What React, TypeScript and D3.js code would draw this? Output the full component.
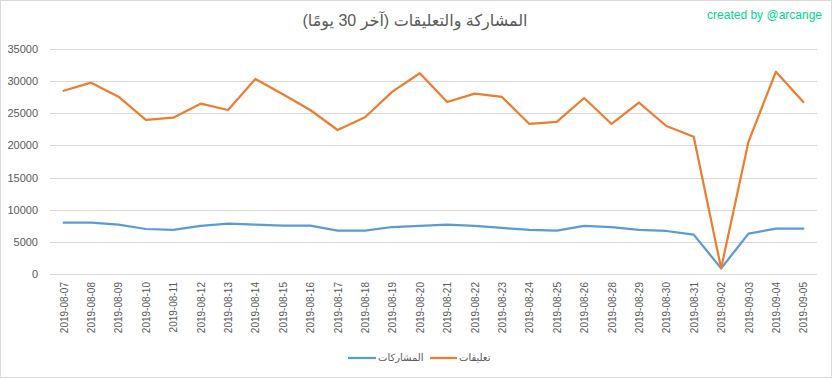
import React from "react";
import * as d3 from "d3";

const categories = [
  "2019-08-07","2019-08-08","2019-08-09","2019-08-10","2019-08-11","2019-08-12","2019-08-13",
  "2019-08-14","2019-08-15","2019-08-16","2019-08-17","2019-08-18","2019-08-19","2019-08-20",
  "2019-08-21","2019-08-22","2019-08-23","2019-08-24","2019-08-25","2019-08-26","2019-08-28",
  "2019-08-29","2019-08-30","2019-08-31","2019-09-02","2019-09-03","2019-09-04","2019-09-05",
];
const participations = [
  7990, 7990, 7680, 7000, 6850, 7470, 7830,
  7680, 7520, 7520, 6740, 6740, 7310, 7470,
  7680, 7470, 7160, 6850, 6740, 7470, 7310,
  6850, 6690, 6120, 880, 6280, 7050, 7050,
];
const comments = [
  28500, 29760, 27580, 23960, 24320, 26500, 25510,
  30340, 27950, 25510, 22400, 24380, 28360, 31220,
  26760, 28050, 27540, 23340, 23650, 27380, 23340,
  26650, 23020, 21360, 880, 20590, 31480, 26760,
];
const yTicks = [0, 5000, 10000, 15000, 20000, 25000, 30000, 35000];
const seriesNames = ["المشاركات", "تعليقات"];
const title = "المشاركة والتعليقات (آخر 30 يومًا)";
const credit = "created by @arcange";

const W = 832, H = 378;
const colors = ["#5b9bd5", "#ed7d31"];
const font = "'Liberation Sans', 'DejaVu Sans', Arial, sans-serif";

export default function App() {
  const x = d3.scaleBand<string>().domain(categories).range([50, 817]);
  const y = d3.scaleLinear().domain([0, 35000]).range([274, 49]);
  const cx = (c: string) => (x(c) as number) + x.bandwidth() / 2;
  const line = d3.line<number>().x((_, i) => cx(categories[i])).y((d) => y(d));
  const series = [participations, comments];

  return (
    <svg width={W} height={H} style={{ position: "absolute", left: 0, top: 0, background: "#fff" }} fontFamily={font}>
      <rect x={0.5} y={0.5} width={W - 1} height={H - 1} fill="#fff" stroke="#d9d9d9" />
      <text x={415} y={26} textAnchor="middle" direction="rtl" fontSize={16} fill="#595959">{title}</text>
      <text x={822} y={19} textAnchor="end" fontSize={12} fill="#00d68f">{credit}</text>
      {yTicks.map((t) => (
        <g key={t}>
          <line x1={50} x2={817} y1={Math.round(y(t)) + 0.5} y2={Math.round(y(t)) + 0.5} stroke="#d9d9d9" strokeWidth={1} />
          <text x={38} y={y(t) + 4} textAnchor="end" fontSize={11} fill="#595959">{t}</text>
        </g>
      ))}
      {categories.map((c) => (
        <text key={c} transform={`translate(${cx(c) + 4},282) rotate(-90)`} textAnchor="end" fontSize={10} fill="#595959">{c}</text>
      ))}
      {series.map((s, i) => (
        <path key={i} d={line(s) || ""} fill="none" stroke={colors[i]} strokeWidth={2.25} strokeLinejoin="round" strokeLinecap="round" />
      ))}
      <g>
        <line x1={348} x2={376} y1={358} y2={358} stroke={colors[0]} strokeWidth={2.25} />
        <text x={378} y={361} fontSize={10} fill="#595959" textAnchor="start">{seriesNames[0]}</text>
        <line x1={430} x2={457} y1={358} y2={358} stroke={colors[1]} strokeWidth={2.25} />
        <text x={459} y={361} fontSize={10} fill="#595959" textAnchor="start">{seriesNames[1]}</text>
      </g>
    </svg>
  );
}
